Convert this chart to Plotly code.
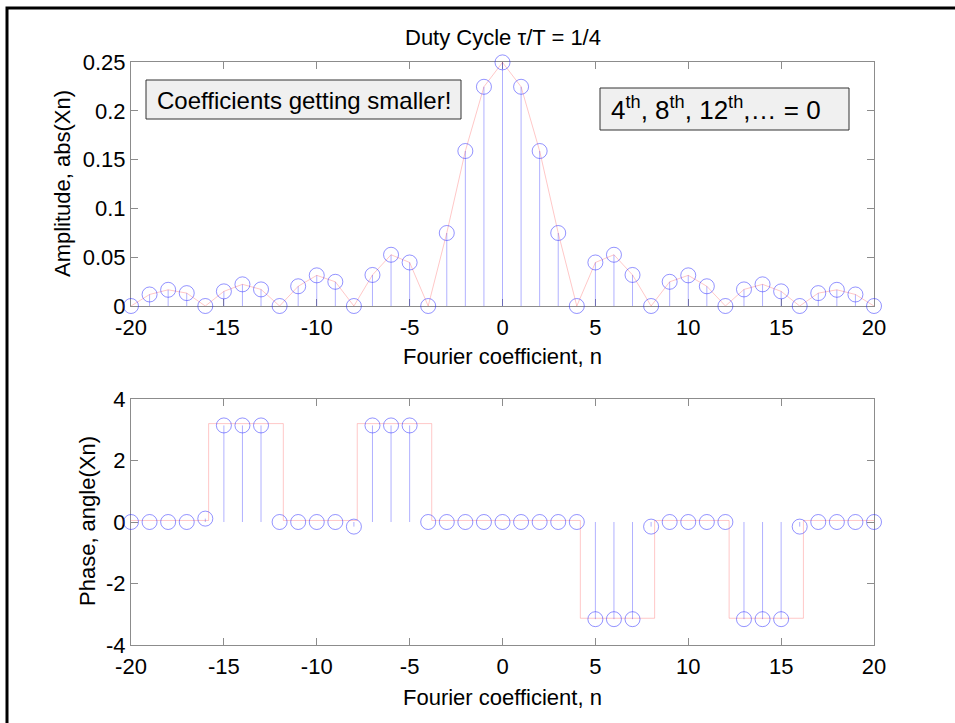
import plotly.graph_objects as go

# ---- data ----
n_values = [-20, -19, -18, -17, -16, -15, -14, -13, -12, -11, -10, -9, -8, -7, -6, -5, -4, -3, -2, -1,
            0, 1, 2, 3, 4, 5, 6, 7, 8, 9, 10, 11, 12, 13, 14, 15, 16, 17, 18, 19, 20]

amplitude = [0.0, 0.0118, 0.0166, 0.0132, 0.0, 0.0150, 0.0222, 0.0170, 0.0, 0.0202, 0.0314, 0.0248,
             0.0, 0.0318, 0.0525, 0.0446, 0.0, 0.0748, 0.1588, 0.2246,
             0.2496,
             0.2246, 0.1588, 0.0748, 0.0, 0.0446, 0.0525, 0.0318, 0.0, 0.0248, 0.0314, 0.0202,
             0.0, 0.0170, 0.0222, 0.0150, 0.0, 0.0132, 0.0166, 0.0118, 0.0]

phase = [0.0, 0.0, 0.0, 0.0, 0.11, 3.14, 3.14, 3.14, 0.0, 0.0, 0.0, 0.0, -0.15, 3.14, 3.14, 3.14,
         0.0, 0.0, 0.0, 0.0, 0.0, 0.0, 0.0, 0.0, 0.0,
         -3.16, -3.16, -3.16, -0.15, 0.0, 0.0, 0.0, 0.0, -3.16, -3.16, -3.16, -0.15, 0.0, 0.0, 0.0, 0.0]

# continuous phase curve (red) breakpoints
phase_curve_x = [-20, -15.82, -15.82, -11.8, -11.8, -7.82, -7.82, -3.81, -3.81, 4.19, 4.19,
                 8.19, 8.19, 12.2, 12.2, 16.2, 16.2, 20]
phase_curve_y = [0.05, 0.05, 3.2, 3.2, 0.05, 0.05, 3.2, 3.2, 0.05, 0.05, -3.13,
                 -3.13, 0.05, 0.05, -3.13, -3.13, 0.05, 0.05]

x_ticks = [-20, -15, -10, -5, 0, 5, 10, 15, 20]
x_tick_labels = ["-20", "-15", "-10", "-5", "0", "5", "10", "15", "20"]
amp_ticks = [0, 0.05, 0.1, 0.15, 0.2, 0.25]
amp_tick_labels = ["0", "0.05", "0.1", "0.15", "0.2", "0.25"]
phase_ticks = [-4, -2, 0, 2, 4]
phase_tick_labels = ["-4", "-2", "0", "2", "4"]

title_text = "Duty Cycle \u03c4/T = 1/4"
note_left = "Coefficients getting smaller!"
note_right = "4<sup>th</sup>, 8<sup>th</sup>, 12<sup>th</sup>,\u2026 = 0"

# ---- styling ----
FONT = "Liberation Sans, Arial, Helvetica, sans-serif"
STEM = "rgba(60,60,255,0.40)"
CIRC = "rgba(40,40,255,0.50)"
RED = "rgba(255,0,0,0.22)"
AX = "#8c8c8c"


def stems(xs, ys):
    sx, sy = [], []
    for x, y in zip(xs, ys):
        sx += [x, x, None]
        sy += [0, y, None]
    return sx, sy


fig = go.Figure()

# top: amplitude
sx, sy = stems(n_values, amplitude)
fig.add_trace(go.Scatter(x=sx, y=sy, mode="lines", line=dict(color=STEM, width=1),
                         xaxis="x", yaxis="y", hoverinfo="skip", cliponaxis=False))
fig.add_trace(go.Scatter(x=n_values, y=amplitude, mode="lines", line=dict(color=RED, width=1),
                         xaxis="x", yaxis="y", cliponaxis=False))
fig.add_trace(go.Scatter(x=n_values, y=amplitude, mode="markers",
                         marker=dict(symbol="circle-open", size=15, color=CIRC, line=dict(width=1, color=CIRC)),
                         xaxis="x", yaxis="y", cliponaxis=False))

# bottom: phase
sx, sy = stems(n_values, phase)
fig.add_trace(go.Scatter(x=sx, y=sy, mode="lines", line=dict(color=STEM, width=1),
                         xaxis="x2", yaxis="y2", hoverinfo="skip", cliponaxis=False))
fig.add_trace(go.Scatter(x=phase_curve_x, y=phase_curve_y, mode="lines", line=dict(color=RED, width=1),
                         xaxis="x2", yaxis="y2", cliponaxis=False))
fig.add_trace(go.Scatter(x=n_values, y=phase, mode="markers",
                         marker=dict(symbol="circle-open", size=15, color=CIRC, line=dict(width=1, color=CIRC)),
                         xaxis="x2", yaxis="y2", cliponaxis=False))

# geometry (pixels)
W, H = 955, 723
L, R, T, B = 131, 81, 62, 78
PW, PH = W - L - R, H - T - B


def px(xp):
    return (xp - L) / PW


def py(yp):
    return (H - B - yp) / PH


axis_common = dict(showline=True, linecolor=AX, linewidth=1, mirror="ticks", ticks="inside",
                   ticklen=7, tickcolor=AX, tickwidth=1, showgrid=False, zeroline=False,
                   tickfont=dict(family=FONT, size=22, color="black"), layer="below traces")

fig.update_layout(
    width=W, height=H, margin=dict(l=L, r=R, t=T, b=B),
    paper_bgcolor="white", plot_bgcolor="white", showlegend=False,
    xaxis=dict(domain=[0, 1], range=[-20, 20], tickvals=x_ticks, ticktext=x_tick_labels,
               anchor="y", ticklabelstandoff=2, **axis_common),
    yaxis=dict(domain=[py(306), 1], range=[0, 0.25], tickvals=amp_ticks, ticktext=amp_tick_labels,
               anchor="x", **axis_common),
    xaxis2=dict(domain=[0, 1], range=[-20, 20], tickvals=x_ticks, ticktext=x_tick_labels,
                anchor="y2", ticklabelstandoff=2, **axis_common),
    yaxis2=dict(domain=[0, py(399)], range=[-4, 4], tickvals=phase_ticks, ticktext=phase_tick_labels,
                anchor="x2", **axis_common),
)

shapes = [
    dict(type="rect", xref="paper", yref="paper", x0=px(7), x1=px(990), y0=py(760), y1=py(8),
         line=dict(color="black", width=3), fillcolor="rgba(0,0,0,0)", layer="above"),
    dict(type="rect", xref="paper", yref="paper", x0=px(146), x1=px(461), y0=py(119), y1=py(80),
         line=dict(color="#333333", width=1), fillcolor="#f0f0f0", layer="above"),
    dict(type="rect", xref="paper", yref="paper", x0=px(600), x1=px(849), y0=py(130), y1=py(88),
         line=dict(color="#333333", width=1), fillcolor="#f0f0f0", layer="above"),
]
fig.update_layout(shapes=shapes)

ann = [
    dict(text=title_text, x=px(503), y=py(37), font=dict(size=22)),
    dict(text=note_left, x=px(303.5), y=py(100), font=dict(size=24)),
    dict(text=note_right, x=px(609), y=py(109), xanchor="left", font=dict(size=26)),
    dict(text="Fourier coefficient, n", x=px(503), y=py(356), font=dict(size=22)),
    dict(text="Fourier coefficient, n", x=px(503), y=py(697), font=dict(size=22)),
    dict(text="Amplitude, abs(Xn)", x=px(62), y=py(184), textangle=-90, font=dict(size=22)),
    dict(text="Phase, angle(Xn)", x=px(87), y=py(521), textangle=-90, font=dict(size=22)),
]
for a in ann:
    a.setdefault("xanchor", "center")
    a.update(xref="paper", yref="paper", yanchor="middle", showarrow=False)
    a["font"] = dict(family=FONT, color="black", **a["font"])
fig.update_layout(annotations=ann)

fig.write_html("out.html")
